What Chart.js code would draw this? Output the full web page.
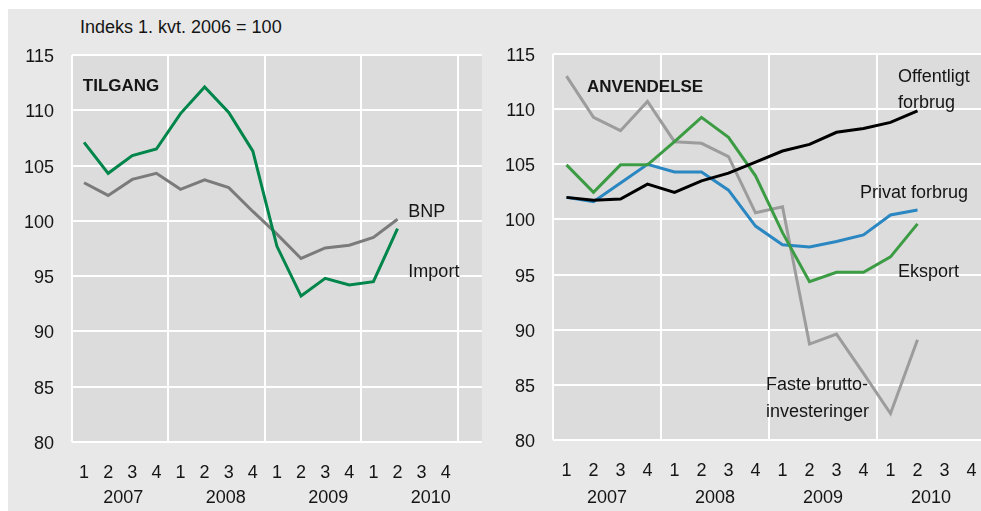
<!DOCTYPE html>
<html>
<head>
<meta charset="utf-8">
<script src="https://cdn.jsdelivr.net/npm/chart.js@4.4.0/dist/chart.umd.min.js"></script>
<style>
  html, body { margin: 0; padding: 0; background: #fff; overflow: hidden; width: 981px; height: 511px; }
  #panel { position: absolute; left: 8px; top: 9px; width: 973px; height: 502px; background: #e8e8e8; }
  canvas { position: absolute; }
  #unit { position: absolute; left: 80px; top: 17px; line-height: 20px; font: 18px "Liberation Sans", Arial, sans-serif; color: #151515; white-space: nowrap; }
</style>
</head>
<body>
<div id="panel"></div>
<div id="unit">Indeks 1. kvt. 2006 = 100</div>
<canvas id="left" width="482" height="502" style="left:8px;top:9px"></canvas>
<canvas id="right" width="540" height="502" style="left:490px;top:9px"></canvas>
<script>
// categories
const quarters = ['1','2','3','4','1','2','3','4','1','2','3','4','1','2','3','4',''];
const years = ['2007', '2008', '2009', '2010'];

// TILGANG
const importData = [107.1, 104.3, 105.9, 106.5, 109.7, 112.1, 109.8, 106.3, 97.7, 93.2, 94.8, 94.2, 94.5, 99.3];
const bnpData    = [103.45, 102.3, 103.75, 104.3, 102.85, 103.7, 103.0, 100.85, 98.8, 96.6, 97.55, 97.8, 98.5, 100.15];

// ANVENDELSE
const offentligtData = [102.0, 101.75, 101.85, 103.2, 102.45, 103.5, 104.2, 105.2, 106.2, 106.8, 107.9, 108.25, 108.8, 109.85];
const privatData     = [102.0, 101.6, 103.3, 105.0, 104.3, 104.3, 102.65, 99.4, 97.7, 97.5, 98.0, 98.6, 100.4, 100.85];
const eksportData    = [104.95, 102.45, 104.95, 104.95, 107.05, 109.25, 107.45, 103.95, 98.8, 94.35, 95.2, 95.2, 96.6, 99.6];
const fasteData      = [113.0, 109.25, 108.05, 110.7, 107.05, 106.9, 105.7, 100.6, 101.15, 88.7, 89.6, 86.05, 82.4, 89.1];

const yMin = 80, yMax = 115, yStep = 5;

const FONT = '"Liberation Sans", Arial, sans-serif';
const TXT = '#151515';

// plot background, year row, and the text notes in the plots
const panelDecor = {
  id: 'panelDecor',
  beforeDraw(chart) {
    const a = chart.chartArea, ctx = chart.ctx;
    ctx.save();
    ctx.fillStyle = '#dcdcdc';
    ctx.fillRect(a.left, a.top, a.right - a.left, a.bottom - a.top);
    ctx.restore();
  },
  beforeDatasetsDraw(chart, args, opts) {
    const ctx = chart.ctx, xs = chart.scales.x, ys = chart.scales.y;
    ctx.save();
    ctx.fillStyle = TXT;
    ctx.textBaseline = 'middle';
    ctx.textAlign = 'left';
    opts.notes.forEach(n => {
      ctx.font = (n.bold ? 'bold 17px ' : '18px ') + FONT;
      ctx.fillText(n.text, xs.getPixelForValue(n.x), ys.getPixelForValue(n.y));
    });
    ctx.restore();
  },
  afterDraw(chart, args, opts) {
    const ctx = chart.ctx, a = chart.chartArea, xs = chart.scales.x;
    ctx.save();
    ctx.fillStyle = TXT;
    ctx.textBaseline = 'middle';
    ctx.textAlign = 'center';
    ctx.font = '18px ' + FONT;
    years.forEach((yr, i) => {
      let x;
      if (opts.yearsSpread) x = a.left + (i + 0.5) * (a.right - a.left) / 4;
      else x = (xs.getPixelForValue(i * 4 + 1) + xs.getPixelForValue(i * 4 + 2)) / 2;
      ctx.fillText(yr, x, a.bottom + opts.yearOffset);
    });
    ctx.restore();
  }
};

function line(data, color, width) {
  return { data, borderColor: color, borderWidth: width, pointRadius: 0, tension: 0, fill: false };
}

function makeOptions(cfg) {
  return {
    responsive: false,
    animation: false,
    layout: { padding: { top: cfg.top, right: cfg.right, left: 0, bottom: 0 } },
    plugins: {
      legend: { display: false },
      tooltip: { enabled: false },
      panelDecor: { notes: cfg.notes, yearsSpread: cfg.yearsSpread, yearOffset: cfg.yearOffset }
    },
    scales: {
      x: {
        offset: true,
        grid: {
          offset: true,
          lineWidth: 2,
          drawTicks: false,
          color: c => (c.index !== undefined && c.index % 4 === 0) ? '#ffffff' : 'rgba(0,0,0,0)'
        },
        border: { display: false },
        ticks: { autoSkip: false, maxRotation: 0, padding: 20, color: TXT, font: { family: FONT, size: 18 } },
        afterFit(s) { s.height = cfg.xHeight; }
      },
      y: {
        min: yMin, max: yMax,
        grid: { color: '#ffffff', lineWidth: 2, drawTicks: false },
        border: { display: false },
        ticks: { stepSize: yStep, padding: 18, labelOffset: 2, color: TXT, font: { family: FONT, size: 18 } },
        afterFit(s) { s.width = cfg.yWidth; }
      }
    }
  };
}

new Chart(document.getElementById('left'), {
  type: 'line',
  data: {
    labels: quarters,
    datasets: [
      line(importData, '#00854a', 3),
      line(bnpData, '#7b7b7b', 3)
    ]
  },
  options: makeOptions({
    top: 46, right: 5, xHeight: 69, yWidth: 64, yearsSpread: true, yearOffset: 56,
    notes: [
      { text: 'TILGANG', bold: true, x: -0.05, y: 112.2 },
      { text: 'BNP', x: 13.45, y: 100.8 },
      { text: 'Import', x: 13.45, y: 95.4 }
    ]
  }),
  plugins: [panelDecor]
});

new Chart(document.getElementById('right'), {
  type: 'line',
  data: {
    labels: quarters,
    datasets: [
      line(offentligtData, '#000000', 3),
      line(eksportData, '#3c9c44', 3),
      line(privatData, '#2a87c2', 3),
      line(fasteData, '#9c9c9c', 3)
    ]
  },
  options: makeOptions({
    top: 45, right: 18, xHeight: 71, yWidth: 63, yearsSpread: false, yearOffset: 58,
    notes: [
      { text: 'ANVENDELSE', bold: true, x: 0.76, y: 112.0 },
      { text: 'Offentligt', x: 12.28, y: 112.9 },
      { text: 'forbrug', x: 12.28, y: 110.56 },
      { text: 'Privat forbrug', x: 10.87, y: 102.4 },
      { text: 'Eksport', x: 12.28, y: 95.26 },
      { text: 'Faste brutto-', x: 7.39, y: 85.0 },
      { text: 'investeringer', x: 7.39, y: 82.57 }
    ]
  }),
  plugins: [panelDecor]
});
</script>
</body>
</html>
